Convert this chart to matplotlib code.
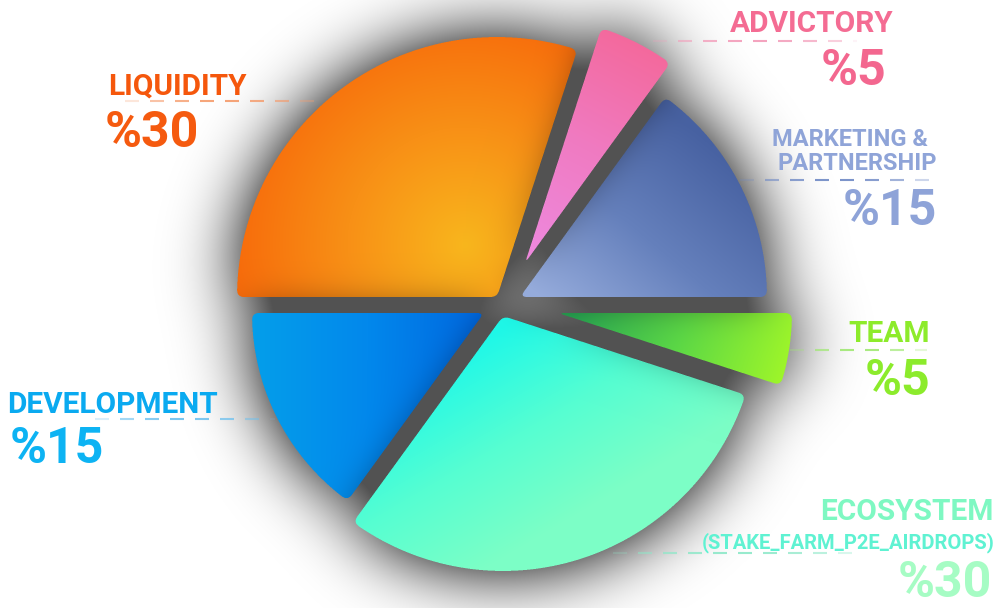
import numpy as np
import matplotlib
matplotlib.use("Agg")
import matplotlib.pyplot as plt
from matplotlib.path import Path
from matplotlib.colors import to_rgb, to_rgba
from matplotlib.collections import LineCollection

W, H = 1005, 608

# data
labels = ["LIQUIDITY", "ADVICTORY", "MARKETING &\nPARTNERSHIP", "TEAM", "ECOSYSTEM", "DEVELOPMENT"]
shares = [30, 5, 15, 5, 30, 15]
pct_labels = ["%30", "%5", "%15", "%5", "%30", "%15"]
eco_note = "(STAKE_FARM_P2E_AIRDROPS)"

# layout / style (image pixel coords, y from top)
centers = [(497, 297), (525, 263), (520, 297), (558, 313), (503, 316), (484, 313)]
radii = [260, 247, 247, 234, 255, 232]
stack = [0, 5, 4, 3, 2, 1]  # drawing order, bottom to top
grads = [
    ("radial", (465, 245), 235, ["#F8B61D", "#F89016", "#F76A0B"]),
    ("linear", (640, 35), (530, 245), ["#F4689A", "#F07AC0", "#EE88DC"]),
    ("linear", (535, 292), (680, 120), ["#96ACDC", "#6580BC", "#4862A2"]),
    ("linear", (575, 308), (785, 372), ["#2AAA55", "#5CD846", "#9EF52A"]),
    ("linear", (500, 330), (600, 500), ["#1FF8E8", "#55FED2", "#7CFEC6"]),
    ("linear", (255, 330), (480, 330), ["#049EEA", "#0288EC", "#0068E0"]),
]
name_col = ["#F5570C", "#F46C93", "#8FA4D8", "#8DEB2B", "#7EF8C2", "#0AAAF0"]
pct_col = ["#F55A0F", "#F3678F", "#8EA3D8", "#8CEB2C", "#A6FCC4", "#0DB3F3"]
line_col = ["#F59A6A", "#F39AB8", "#6C87C4", "#9EE870", "#8CE8C8", "#6CC0EE"]
leaders = [(125, 320, 101), (653, 857, 41), (740, 934, 180), (790, 927, 350), (613, 860, 553), (95, 275, 419)]

FONT = ["Roboto", "DejaVu Sans"]


def yy(y):
    return H - y


def round_corners(poly, win=15):
    pts = np.vstack([poly, poly[:1]])
    d = np.hypot(*np.diff(pts, axis=0).T)
    s = np.concatenate([[0], np.cumsum(d)])
    t = np.arange(0, s[-1], 1.0)
    x = np.interp(t, s, pts[:, 0])
    y = np.interp(t, s, pts[:, 1])
    k = np.ones(win) / win

    def circ(v):
        ext = np.concatenate([v[-win:], v, v[:win]])
        return np.convolve(ext, k, mode="same")[win:-win]
    return np.column_stack([circ(x), circ(y)])


def grad_t(px, py, g):
    if g[0] == "radial":
        cx, cy = g[1][0], yy(g[1][1])
        return np.clip(np.hypot(px - cx, py - cy) / g[2], 0, 1)
    x0, y0 = g[1][0], yy(g[1][1])
    x1, y1 = g[2][0], yy(g[2][1])
    dx, dy = x1 - x0, y1 - y0
    return np.clip(((px - x0) * dx + (py - y0) * dy) / (dx * dx + dy * dy), 0, 1)


def shade(t, cols):
    stops = np.linspace(0, 1, len(cols))
    rgb = np.array([to_rgb(c) for c in cols])
    return np.dstack([np.interp(t, stops, rgb[:, i]) for i in range(3)])


def gblur(a, sigma):
    r = int(3 * sigma)
    x = np.arange(-r, r + 1)
    k = np.exp(-x ** 2 / (2 * sigma ** 2))
    k /= k.sum()
    a = np.apply_along_axis(lambda v: np.convolve(v, k, mode="same"), 0, a)
    a = np.apply_along_axis(lambda v: np.convolve(v, k, mode="same"), 1, a)
    return a


fig = plt.figure(figsize=(W / 100, H / 100), dpi=100)
ax = fig.add_axes([0, 0, 1, 1])
wedges, _ = ax.pie(shares, startangle=180, counterclock=False)

polys = []
for w, c, r in zip(wedges, centers, radii):
    w.set_center((c[0], yy(c[1])))
    w.set_radius(r)
    w.set_visible(False)
    th = np.radians(np.linspace(w.theta1, w.theta2, 200))
    cx, cy = w.center
    arc = np.column_stack([cx + w.r * np.cos(th), cy + w.r * np.sin(th)])
    poly = np.vstack([[cx, cy], arc])
    polys.append(round_corners(poly))

# soft shadow behind the whole pie
gx, gy = np.meshgrid(np.arange(W) + 0.5, np.arange(H) + 0.5)
grid = np.column_stack([gx.ravel(), gy.ravel()])
masks = [Path(p).contains_points(grid).reshape(H, W).astype(float) for p in polys]
mask = np.max(masks, axis=0)
blur = gblur(mask, 35)
shadow = np.zeros((H, W, 4))
shadow[..., 3] = np.clip(blur * 1.6, 0, 1) * 0.68
ax.imshow(shadow, extent=(0, W, 0, H), origin="lower", interpolation="bilinear", zorder=1)

# shadows that upper slices cast onto lower ones
casts = [np.clip(gblur(m, 20) * 1.8, 0, 1) for m in masks]

# gradient filled wedges
ss = 3
for i, (p, g) in enumerate(zip(polys, grads)):
    x0, y0 = np.floor(p.min(0)) - 2
    x1, y1 = np.ceil(p.max(0)) + 2
    nx, ny = int(x1 - x0), int(y1 - y0)
    sx = x0 + (np.arange(nx * ss) + 0.5) / ss
    sy = y0 + (np.arange(ny * ss) + 0.5) / ss
    qx, qy = np.meshgrid(sx, sy)
    inside = Path(p).contains_points(np.column_stack([qx.ravel(), qy.ravel()]))
    alpha = inside.reshape(ny, ss, nx, ss).mean(axis=(1, 3))
    px, py = np.meshgrid(x0 + np.arange(nx) + 0.5, y0 + np.arange(ny) + 0.5)
    rgb = shade(grad_t(px, py, g), g[3])
    rank = stack.index(i)
    above = [casts[j][int(y0):int(y1), int(x0):int(x1)] for j in stack[rank + 1:]]
    if above:
        dark = np.max(above, axis=0) * 0.38
        rgb = rgb * (1 - dark[..., None])
    ax.imshow(np.dstack([rgb, alpha]), extent=(x0, x1, y0, y1), origin="lower",
              interpolation="nearest", zorder=3 + rank)

# dashed leader lines, fading at both ends
for (x0, x1, y), col in zip(leaders, line_col):
    segs, cols = [], []
    x = x0
    while x < x1:
        xe = min(x + 14, x1)
        segs.append([(x, yy(y)), (xe, yy(y))])
        t = ((x + xe) / 2 - x0) / (x1 - x0)
        cols.append(to_rgba(col, 0.9 * np.sin(np.pi * t) ** 0.6))
        x += 25
    ax.add_collection(LineCollection(segs, colors=cols, linewidths=1.5, zorder=2))

# labels
name_pos = [(108, 95, "left"), (893, 32, "right"), (None, None, "right"),
            (930, 342, "right"), (993, 520, "right"), (7, 413, "left")]
pct_pos = [(105, 147, "left"), (886, 85, "right"), (937, 225, "right"),
           (930, 395, "right"), (992, 597, "right"), (10, 463, "left")]
for i, lab in enumerate(labels):
    nx_, ny_, ha = name_pos[i]
    if "\n" in lab:
        l1, l2 = lab.split("\n")
        ax.text(928, yy(146), l1, color=name_col[i], fontsize=17, fontweight="bold",
                family=FONT, ha="right", va="baseline", zorder=20)
        ax.text(937, yy(170), l2, color=name_col[i], fontsize=17, fontweight="bold",
                family=FONT, ha="right", va="baseline", zorder=20)
    else:
        ax.text(nx_, yy(ny_), lab, color=name_col[i], fontsize=21.5, fontweight="bold",
                family=FONT, ha=ha, va="baseline", zorder=20)
    px_, py_, ha = pct_pos[i]
    ax.text(px_, yy(py_), pct_labels[i], color=pct_col[i], fontsize=36, fontweight="bold",
            family=FONT, ha=ha, va="baseline", zorder=20)
ax.text(995, yy(548), eco_note, color="#5FF2D2", fontsize=14.5, fontweight="bold",
        family=FONT, ha="right", va="baseline", zorder=20)

ax.set_xlim(0, W)
ax.set_ylim(0, H)
ax.axis("off")
fig.savefig("out.png", dpi=100, facecolor="white")
